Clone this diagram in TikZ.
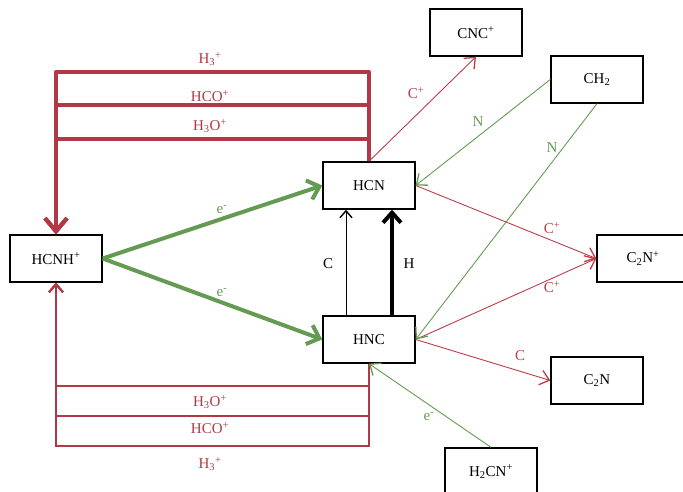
\documentclass[tikz,border=0pt]{standalone}
\usepackage{fontspec}
\setmainfont{Liberation Serif}
\usetikzlibrary{arrows.meta}
\definecolor{redc}{RGB}{178,56,70}
\definecolor{redt}{RGB}{190,60,72}
\definecolor{greenc}{RGB}{100,155,82}
\tikzset{
  box/.style={draw=black, line width=1.4pt, minimum width=92pt, minimum height=47pt, inner sep=0pt, font=\fontsize{15}{17}\selectfont},
  lbl/.style={font=\fontsize{15}{17}\selectfont, inner sep=1pt},
  barb/.style={-{Straight Barb[length=9pt,width=15pt,line width=1.3pt]}},
  thickred/.style={draw=redc, line width=4pt, line join=round, -{Straight Barb[length=13pt,width=22pt,line width=4pt]}},
  midred/.style={draw=redc, line width=2pt, -{Straight Barb[length=8pt,width=14pt,line width=2pt]}},
  thinred/.style={draw=redt, line width=0.9pt, barb},
  thingreen/.style={draw=greenc, line width=0.9pt, barb},
  thickgreen/.style={draw=greenc, line width=4pt, -{Straight Barb[length=11pt,width=20pt,line width=4pt]}},
}
\begin{document}
\begin{tikzpicture}[x=1pt,y=-1pt]
\useasboundingbox (0,0) rectangle (683,492);
\clip (0,0) rectangle (683,492);
% nodes
\node[box] (hcnh) at (56,258.5) {HCNH\textsuperscript{+}};
\node[box] (hcn) at (369,185.5) {HCN};
\node[box] (hnc) at (369,339.5) {HNC};
\node[box] (cnc) at (476,32.5) {CNC\textsuperscript{+}};
\node[box] (ch2) at (597,79.5) {CH\textsubscript{2}};
\node[box] (c2np) at (643,258.5) {C\textsubscript{2}N\textsuperscript{+}};
\node[box] (c2n) at (597,380.5) {C\textsubscript{2}N};
\node[box] (h2cn) at (491,471.5) {H\textsubscript{2}CN\textsuperscript{+}};
% top red loops
\draw[thickred] (hcn.north) -- (369,72) -- (56,72) -- (hcnh.north);
\draw[thickred] (hcn.north) -- (369,105) -- (56,105) -- (hcnh.north);
\draw[thickred] (hcn.north) -- (369,139) -- (56,139) -- (hcnh.north);
\node[lbl, text=redc] (l1) at (210,59) {H\textsubscript{3}\textsuperscript{+}};
\node[lbl, text=redc] (l2) at (210,96) {HCO\textsuperscript{+}};
\node[lbl, text=redc] (l3) at (210,126) {H\textsubscript{3}O\textsuperscript{+}};
% bottom red loops
\draw[midred] (hnc.south) -- (369,386) -- (56,386) -- (hcnh.south);
\draw[midred] (hnc.south) -- (369,416) -- (56,416) -- (hcnh.south);
\draw[midred] (hnc.south) -- (369,446) -- (56,446) -- (hcnh.south);
\node[lbl, text=redc] (l4) at (210,402) {H\textsubscript{3}O\textsuperscript{+}};
\node[lbl, text=redc] (l5) at (210,428) {HCO\textsuperscript{+}};
\node[lbl, text=redc] (l6) at (210,464) {H\textsubscript{3}\textsuperscript{+}};
% green thick
\draw[thickgreen] (hcnh.east) -- (hcn.west);
\draw[thickgreen] (hcnh.east) -- (hnc.west);
\node[lbl, text=greenc] (e1) at (222,210) {e\textsuperscript{-}};
\node[lbl, text=greenc] (e2) at (222,293) {e\textsuperscript{-}};
% black
\draw[line width=1pt, -{Straight Barb[length=7pt,width=12pt,line width=1.4pt]}] ([xshift=-23pt]hnc.north) -- ([xshift=-23pt]hcn.south);
\draw[line width=4pt, -{Straight Barb[length=10pt,width=18pt,line width=4pt]}] ([xshift=23pt]hnc.north) -- ([xshift=23pt]hcn.south);
\node[lbl] (lc) at (328,264) {C};
\node[lbl] (lh) at (409,264) {H};
% thin red
\draw[thinred] (hcn.north) -- (cnc.south);
\node[lbl, text=redt] (c1) at (416,93) {C\textsuperscript{+}};
\draw[thinred] (hcn.east) -- (c2np.west);
\node[lbl, text=redt] (c2) at (552,228) {C\textsuperscript{+}};
\draw[thinred] (hnc.east) -- (c2np.west);
\node[lbl, text=redt] (c3) at (552,287) {C\textsuperscript{+}};
\draw[thinred] (hnc.east) -- (c2n.west);
\node[lbl, text=redt] (c4) at (520,356) {C};
% thin green
\draw[thingreen] (ch2.west) -- (hcn.east);
\node[lbl, text=greenc] (n1) at (478,122) {N};
\draw[thingreen] (ch2.south) -- (hnc.east);
\node[lbl, text=greenc] (n2) at (552,148) {N};
\draw[thingreen] (h2cn.north) -- (hnc.south);
\node[lbl, text=greenc] (e3) at (429,417) {e\textsuperscript{-}};
\end{tikzpicture}
\end{document}
